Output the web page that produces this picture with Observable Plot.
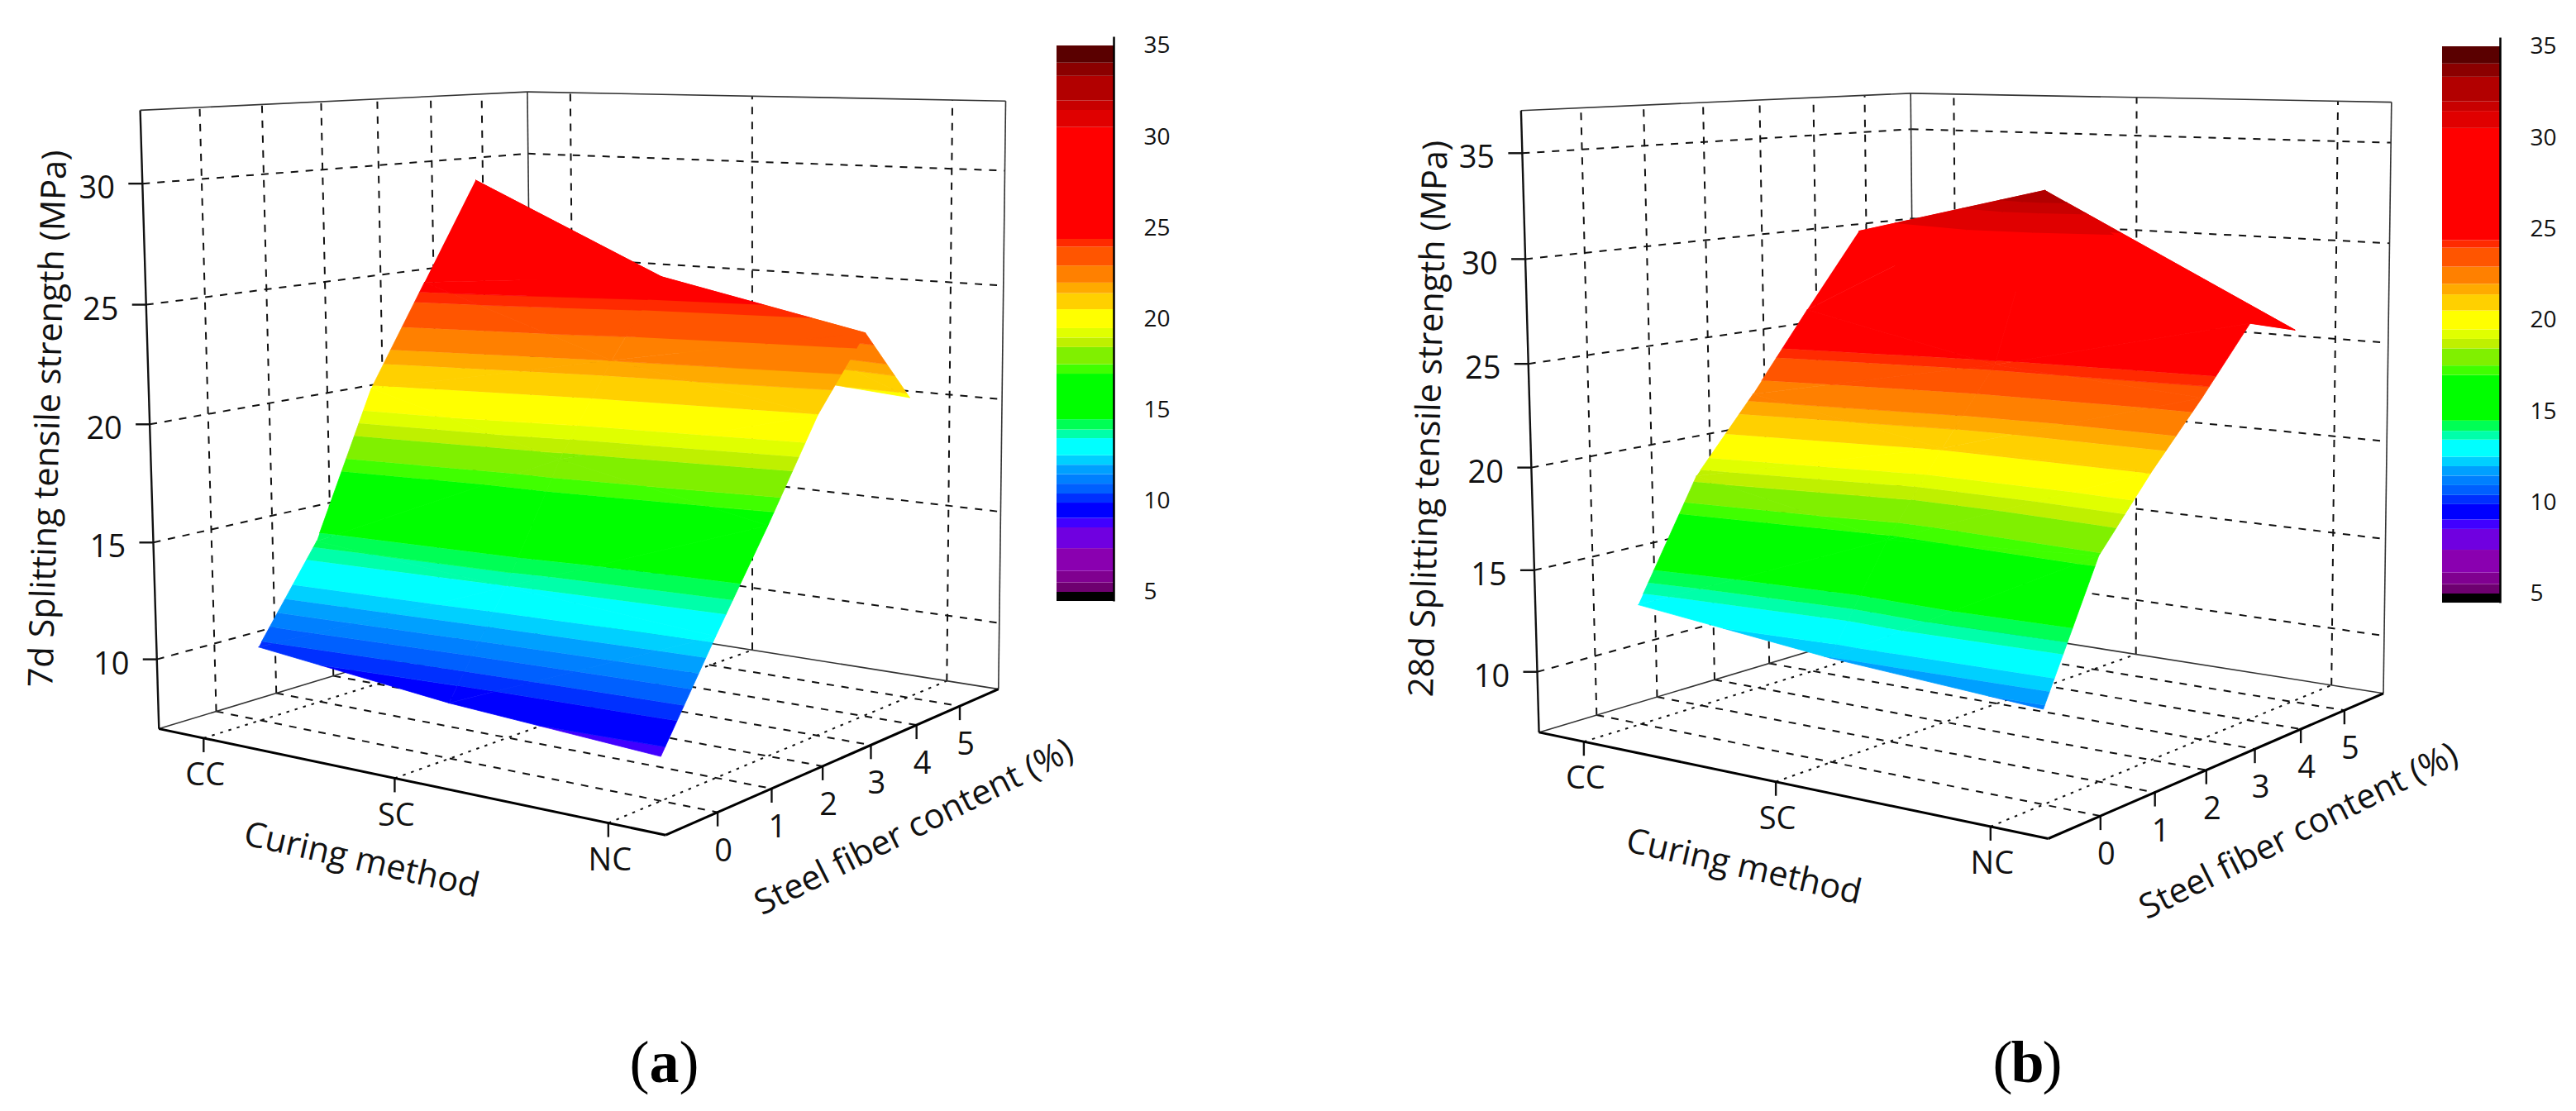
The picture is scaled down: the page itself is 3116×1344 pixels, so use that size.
<!DOCTYPE html>
<html>
<head>
<meta charset="utf-8">
<script src="https://cdn.jsdelivr.net/npm/d3@7"></script>
<script src="https://cdn.jsdelivr.net/npm/@observablehq/plot@0.6"></script>
<style>html,body{margin:0;padding:0;background:#fff}svg{display:block}</style>
</head>
<body>
<div id="chart"></div>
<script>
// ---- data ----
const curing = ["CC", "SC", "NC"];
const fiber = [0, 1, 2, 3, 4, 5];
const s7CC = [10.2, 14.15, 20.4, 24.8, 29.2, 23.5];
const s7SC = [9.3, 13.4, 18.2, 22, 25.3, 21];
const s7NC = [8.75, 12.7, 16.5, 20.5, 23.5, 20.3];
const s28CC = [12.96, 18.7, 22.3, 26.2, 30, 27];
const s28SC = [11.95, 16.8, 20.6, 24.2, 32.58, 26.7];
const s28NC = [11.3, 17.4, 20.6, 23.5, 26.6, 25.85];
const zTicks7 = [10, 15, 20, 25, 30];
const zTicks28 = [10, 15, 20, 25, 30, 35];
const barTicks = [5, 10, 15, 20, 25, 30, 35];
const levelBreaks = [5,5.52,6.15,7.4,8.54,9.06,9.9,10.4,10.94,11.46,11.98,12.5,13.44,13.92,14.48,16.98,17.5,18.44,18.96,19.48,20.52,21.4,21.98,22.92,23.96,24.38,30.52,31.46,31.98,33.33,34.06];
const levelColors = ["#000000","#6e0070","#800090","#8a00b0","#7000e0","#4000ff","#0000ff","#0030ff","#0060ff","#0080ff","#00a0ff","#00d0ff","#00ffff","#00ffaa","#00ff55","#00ff00","#40ff00","#80f000","#bff000","#e0ff00","#ffff00","#ffd000","#ffaa00","#ff8000","#ff5500","#ff2a00","#ff0000","#e00000","#c80000","#b20000","#8b0000","#5a0000"];

// ---- view calibration of the two panels ----
const FONT = "Open Sans";
const xDom = [-0.25, 2.25], yDom = [-0.907, 5.94];
const depthL = 1.15, depthR = 1.21, depthUp = -0.035;
const panels = [
  {F:[804.8,1009.7],L:[191.8,881.1],R:[1207.3,833.1],Lt:[168.9,132.9],Rt:[1216.2,121.7],zDom:[7,33],
   series:[s7CC,s7SC,s7NC],zTicks:zTicks7,title:"7d Splitting tensile strength (MPa)",letter:"a",cap:803,
   titleAt:[58,506],curAt:[437,1040],fibAt:[1105,1000],
   bar:{x1:1278,x2:1347,y35:55,y5:716}},
  {F:[2477.1,1014],L:[1861.1,885.4],R:[2882.5,838.3],Lt:[1839.2,133.7],Rt:[2892.5,122.6],zDom:[7,37],
   series:[s28CC,s28SC,s28NC],zTicks:zTicks28,title:"28d Splitting tensile strength (MPa)",letter:"b",cap:2452,
   titleAt:[1728,506],curAt:[2109,1048],fibAt:[2780,1005],
   bar:{x1:2954,x2:3024,y35:56,y5:718}}
];

function camera(p){
  const {F,L,R,Lt,Rt,zDom} = p;
  const D = [0,1].map(i => ((Lt[i]*(depthL+depthUp)-L[i]*depthL)+(Rt[i]*(depthR+depthUp)-R[i]*depthR))/2);
  return (X,Y,Z) => {
    const s = 1-(X-xDom[0])/(xDom[1]-xDom[0]);
    const v = (Y-yDom[0])/(yDom[1]-yDom[0]);
    const w = (Z-zDom[0])/(zDom[1]-zDom[0]);
    const d = 1+s*(depthL-1)+v*(depthR-1)+w*depthUp;
    return [0,1].map(i => (F[i]+s*(L[i]*depthL-F[i])+v*(R[i]*depthR-F[i])+w*D[i])/d);
  };
}

function clip(poly, test){ // keep part with test(z)>=0
  const out=[];
  for(let i=0;i<poly.length;i++){
    const a=poly[i], b=poly[(i+1)%poly.length];
    const fa=test(a[2]), fb=test(b[2]);
    if(fa>=0) out.push(a);
    if((fa>=0)!==(fb>=0)){
      const t=fa/(fa-fb);
      out.push([a[0]+t*(b[0]-a[0]),a[1]+t*(b[1]-a[1]),a[2]+t*(b[2]-a[2])]);
    }
  }
  return out;
}

const bands = [[-Infinity,levelBreaks[0]],...levelBreaks.map((b,i)=>[b,i+1<levelBreaks.length?levelBreaks[i+1]:Infinity])];
const surf=[], links=[], labels=[], rects=[], bars=[];
let id=0;
const seg=(kind,a,b)=>links.push({kind,x1:a[0],y1:a[1],x2:b[0],y2:b[1]});

panels.forEach((p)=>{
  const P=camera(p);
  const [z0,z1]=p.zDom, [x0,x1]=xDom, [y0,y1]=yDom;
  // grid
  p.zTicks.forEach(z=>{
    seg("dash",P(x0,y0,z),P(x0,y1,z)); seg("dash",P(x0,y1,z),P(x1,y1,z));
    const q=P(x0,y0,z);
    seg("tick",q,[q[0]-17,q[1]]);
    labels.push({t:String(z),x:q[0]-55,y:q[1]+6,size:38});
  });
  fiber.forEach(y=>{
    seg("dash",P(x0,y,z0),P(x0,y,z1)); seg("floorY",P(x0,y,z0),P(x1,y,z0));
    const a=P(x1,y,z0);
    seg("tick",a,[a[0],a[1]+17]);
    labels.push({t:String(y),x:a[0]+7,y:a[1]+47,size:38});
  });
  curing.forEach((c,i)=>{
    seg("dash",P(i,y1,z0),P(i,y1,z1)); seg("floorX",P(i,y0,z0),P(i,y1,z0));
    const a=P(i,y0,z0);
    seg("tick",a,[a[0],a[1]+17]);
    labels.push({t:c,x:a[0]+2,y:a[1]+45,size:38});
  });
  // frame
  seg("axis",P(x0,y0,z0),P(x1,y0,z0)); seg("axis",P(x1,y0,z0),P(x1,y1,z0));
  seg("edge",P(x0,y0,z0),P(x0,y0,z1)); seg("thin",P(x1,y1,z0),P(x1,y1,z1));
  seg("thin",P(x0,y1,z0),P(x0,y1,z1)); seg("thin",P(x0,y0,z1),P(x0,y1,z1));
  seg("thin",P(x0,y1,z1),P(x1,y1,z1)); seg("thin",P(x0,y0,z0),P(x0,y1,z0));
  seg("thin",P(x0,y1,z0),P(x1,y1,z0));
  // surface, far cells first
  for(let j=fiber.length-2;j>=0;j--){
    for(let i=0;i<curing.length-1;i++){
      const v=(a,b)=>[a,fiber[b],p.series[a][b]];
      const tris=[[v(i,j),v(i+1,j),v(i+1,j+1)],[v(i,j),v(i+1,j+1),v(i,j+1)]];
      tris.forEach(tri=>bands.forEach(([lo,hi])=>{
        let poly=tri;
        if(lo>-Infinity) poly=clip(poly,z=>z-lo);
        if(poly.length&&hi<Infinity) poly=clip(poly,z=>hi-z);
        if(poly.length<3) return;
        const mid=lo===-Infinity?hi-1:hi===Infinity?lo+0.5:(lo+hi)/2;
        id++;
        poly.forEach(q=>{const [px,py]=P(q[0],q[1],q[2]);surf.push({id,px,py,v:mid});});
      }));
    }
  }
  // colour bar
  const by=z=>p.bar.y5+(z-5)*(p.bar.y35-p.bar.y5)/30;
  [[4.5,5],...levelBreaks.map((b,i)=>[b,i+1<levelBreaks.length?levelBreaks[i+1]:35])].forEach(([lo,hi])=>{
    rects.push({x1:p.bar.x1,x2:p.bar.x2,y1:by(lo),y2:by(hi),v:(lo+hi)/2});
  });
  bars.push({x1:p.bar.x2,y1:by(35)-11,x2:p.bar.x2,y2:by(4.5)});
  barTicks.forEach(t=>labels.push({t:String(t),x:p.bar.x2+36,y:by(t),size:28,anchor:"start"}));
  // titles
  labels.push({t:p.title,x:p.titleAt[0],y:p.titleAt[1],size:41.5,rotate:-88.5});
  labels.push({t:"Curing method",x:p.curAt[0],y:p.curAt[1],size:41.5,rotate:12.8});
  labels.push({t:"Steel fiber content (%)",x:p.fibAt[0],y:p.fibAt[1],size:41.5,rotate:-26.7});
});

const captions = panels.flatMap(p=>[
  {t:"(",x:p.cap-18,anchor:"end",w:"normal"},
  {t:p.letter,x:p.cap,anchor:"middle",w:"bold"},
  {t:")",x:p.cap+18,anchor:"start",w:"normal"}
]);

const linkKind=(kind,opts)=>Plot.link(links.filter(d=>d.kind===kind),{x1:"x1",y1:"y1",x2:"x2",y2:"y2",...opts});
const textBy=(filter,opts)=>Plot.text(labels.filter(filter),{x:"x",y:"y",text:"t",fontFamily:FONT,fill:"#111",...opts});

const chart=Plot.plot({
  width:3116,height:1344,margin:0,
  x:{type:"linear",domain:[0,3116],range:[0,3116],axis:null},
  y:{type:"linear",domain:[0,1344],range:[0,1344],axis:null},
  color:{type:"threshold",domain:levelBreaks,range:levelColors},
  style:{background:"#fff"},
  marks:[
    linkKind("dash",{stroke:"#111",strokeWidth:2,strokeDasharray:"9,9"}),
    linkKind("floorY",{stroke:"#111",strokeWidth:2,strokeDasharray:"9,9"}),
    linkKind("floorX",{stroke:"#111",strokeWidth:2,strokeDasharray:"3.5,7"}),
    linkKind("thin",{stroke:"#333",strokeWidth:1.6}),
    linkKind("edge",{stroke:"#111",strokeWidth:2.4}),
    linkKind("tick",{stroke:"#111",strokeWidth:2.4}),
    linkKind("axis",{stroke:"#000",strokeWidth:3}),
    Plot.line(surf,{x:"px",y:"py",z:"id",fill:"v",stroke:"v",strokeWidth:0.8}),
    Plot.rect(rects,{x1:"x1",x2:"x2",y1:"y1",y2:"y2",fill:"v"}),
    Plot.link(bars,{x1:"x1",y1:"y1",x2:"x2",y2:"y2",stroke:"#000",strokeWidth:2.5}),
    ...[38,28].flatMap(size=>[
      textBy(d=>d.size===size&&!d.rotate&&!d.anchor,{fontSize:size}),
      textBy(d=>d.size===size&&d.anchor==="start",{fontSize:size,textAnchor:"start"})
    ]),
    ...labels.filter(d=>d.rotate).map(d=>Plot.text([d],{x:"x",y:"y",text:"t",rotate:d.rotate,fontSize:d.size,fontFamily:FONT,fill:"#111"})),
    ...captions.map(c=>Plot.text([c],{x:"x",y:()=>1308,text:"t",fontSize:72,fontFamily:"Liberation Serif",fontWeight:c.w,textAnchor:c.anchor,lineAnchor:"bottom",fill:"#000"}))
  ]
});
document.getElementById("chart").appendChild(chart);
</script>
</body>
</html>
